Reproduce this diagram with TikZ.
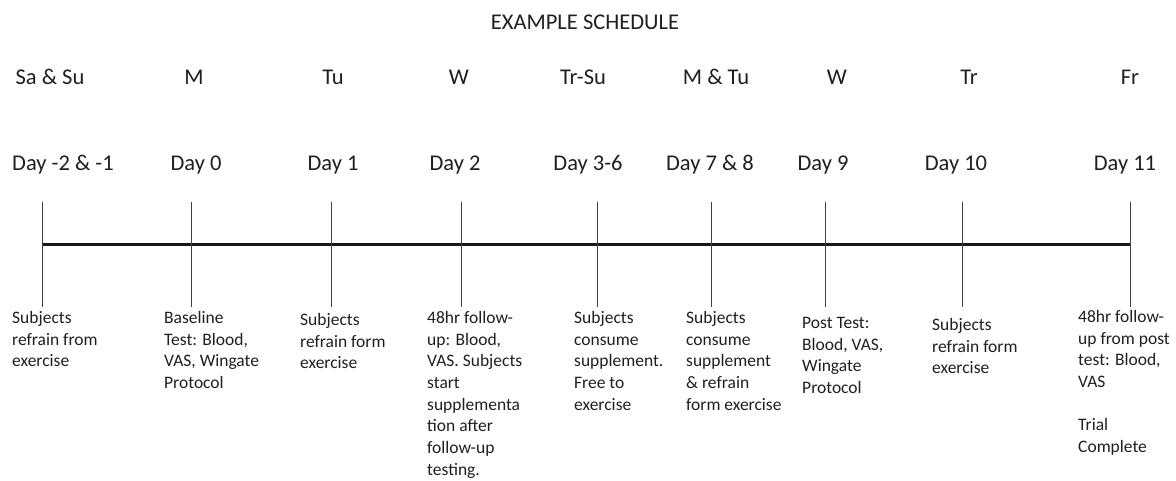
\documentclass[tikz,border=0pt]{standalone}
\usepackage{fontspec}
\setmainfont{Carlito}
\tikzset{
  weeklbl/.style={anchor=base,inner sep=0pt,text=black!88,font=\fontsize{22.5}{27}\selectfont},
  daylbl/.style={anchor=base,inner sep=0pt,text=black!88,font=\fontsize{22.5}{27}\selectfont},
  notelbl/.style={anchor=north west,inner sep=0pt,align=left,text=black!88,font=\fontsize{17.5}{21.7}\selectfont},
  tickline/.style={line width=0.9pt,black!75},
  timeline/.style={line width=3pt,black!90}
}
\begin{document}
\begin{tikzpicture}[x=1pt,y=-1pt]
\useasboundingbox (0,0) rectangle (1176,480);

\node[weeklbl] (title) at (585,29) {EXAMPLE SCHEDULE};

% days of the week
\node[weeklbl] (wk1) at (50,84) {Sa \& Su};
\node[weeklbl] (wk2) at (194,84) {M};
\node[weeklbl] (wk3) at (333,84) {Tu};
\node[weeklbl] (wk4) at (459,84) {W};
\node[weeklbl] (wk5) at (583,84) {Tr-Su};
\node[weeklbl] (wk6) at (716,84) {M \& Tu};
\node[weeklbl] (wk7) at (837,84) {W};
\node[weeklbl] (wk8) at (969,84) {Tr};
\node[weeklbl] (wk9) at (1130,84) {Fr};

% study days
\node[daylbl] (day1) at (63,170) {Day -2 \& -1};
\node[daylbl] (day2) at (196,170) {Day 0};
\node[daylbl] (day3) at (333,170) {Day 1};
\node[daylbl] (day4) at (455,170) {Day 2};
\node[daylbl] (day5) at (588,170) {Day 3-6};
\node[daylbl] (day6) at (710,170) {Day 7 \& 8};
\node[daylbl] (day7) at (823,170) {Day 9};
\node[daylbl] (day8) at (956,170) {Day 10};
\node[daylbl] (day9) at (1125,170) {Day 11};

% timeline
\coordinate (start) at (42,244);
\coordinate (end) at (1130,244);
\draw[timeline] (start) -- (end);

\coordinate (top1) at (42,202);   \coordinate (bot1) at (42,307);
\coordinate (top2) at (191,202);  \coordinate (bot2) at (191,307);
\coordinate (top3) at (331,202);  \coordinate (bot3) at (331,307);
\coordinate (top4) at (461,202);  \coordinate (bot4) at (461,307);
\coordinate (top5) at (597,202);  \coordinate (bot5) at (597,307);
\coordinate (top6) at (711,202);  \coordinate (bot6) at (711,307);
\coordinate (top7) at (825,202);  \coordinate (bot7) at (825,307);
\coordinate (top8) at (962,202);  \coordinate (bot8) at (962,307);
\coordinate (top9) at (1130,202); \coordinate (bot9) at (1130,307);
\draw[tickline] (top1) -- (bot1);
\draw[tickline] (top2) -- (bot2);
\draw[tickline] (top3) -- (bot3);
\draw[tickline] (top4) -- (bot4);
\draw[tickline] (top5) -- (bot5);
\draw[tickline] (top6) -- (bot6);
\draw[tickline] (top7) -- (bot7);
\draw[tickline] (top8) -- (bot8);
\draw[tickline] (top9) -- (bot9);

% what happens on each day
\node[notelbl] (note1) at (12,311) {Subjects\\refrain from\\exercise};
\node[notelbl] (note2) at (164,311) {Baseline\\Test: Blood,\\VAS, Wingate\\Protocol};
\node[notelbl] (note3) at (300,313) {Subjects\\refrain form\\exercise};
\node[notelbl] (note4) at (427,311) {48hr follow-\\up: Blood,\\VAS. Subjects\\start\\supplementa\\tion after\\follow-up\\testing.};
\node[notelbl] (note5) at (574,311) {Subjects\\consume\\supplement.\\Free to\\exercise};
\node[notelbl] (note6) at (686,311) {Subjects\\consume\\supplement\\\& refrain\\form exercise};
\node[notelbl] (note7) at (802,317) {Post Test:\\Blood, VAS,\\Wingate\\Protocol};
\node[notelbl] (note8) at (932,318) {Subjects\\refrain form\\exercise};
\node[notelbl] (note9) at (1078,310) {48hr follow-\\up from post\\test: Blood,\\VAS\\[21.7pt]Trial\\Complete};
\end{tikzpicture}
\end{document}
